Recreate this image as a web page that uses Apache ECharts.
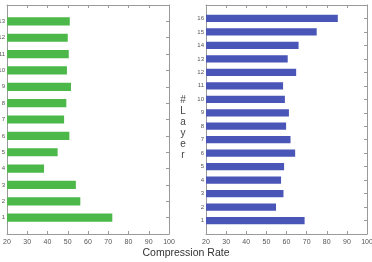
<!DOCTYPE html>
<html>
<head>
<meta charset="utf-8">
<title>Compression Rate</title>
<script src="https://cdn.jsdelivr.net/npm/echarts@6/dist/echarts.min.js"></script>
<style>html,body{margin:0;padding:0;background:#fff;}</style>
</head>
<body>
<div id="main" style="width:372px;height:262px;"></div>
<script type="text/javascript">
// layers, bottom to top
var leftLayers = ['1','2','3','4','5','6','7','8','9','10','11','12','13'];
var leftRates = [72, 56.2, 54, 38.3, 45, 50.8, 48.2, 49.3, 51.6, 49.6, 50.5, 50, 51];
var rightLayers = ['1','2','3','4','5','6','7','8','9','10','11','12','13','14','15','16'];
var rightRates = [69, 54.8, 58.5, 57.3, 58.8, 64.3, 62, 59.8, 61.2, 59.2, 58.3, 64.8, 60.6, 66, 75, 85.5];
var xTicks = [20, 30, 40, 50, 60, 70, 80, 90, 100];

var green = '#4cb84a', blue = '#4a55b8';
var lineCol = '#9a9a9a', labCol = '#555';
var plotTop = 5, plotBottom = 28;

function bandPad(n) { return (262 - plotTop - plotBottom) / (n + 1) / 2; }

function frameX(gi, top) {
    return {
        type: 'value', gridIndex: gi, min: xTicks[0], max: xTicks[xTicks.length - 1], interval: 10,
        position: top ? 'top' : 'bottom',
        axisLine: {show: true, onZero: false, lineStyle: {color: lineCol}},
        axisTick: {show: true, inside: true, length: 3, lineStyle: {color: lineCol}},
        axisLabel: {show: !top, fontSize: 7, color: labCol, margin: 5, fontFamily: 'Liberation Sans',
            showMinLabel: true, showMaxLabel: true},
        splitLine: {show: false}
    };
}
function frameY(gi, n, right) {
    return {
        type: 'value', gridIndex: gi, min: 0, max: n + 1, interval: 1,
        position: right ? 'right' : 'left',
        axisLine: {show: true, onZero: false, lineStyle: {color: lineCol}},
        axisTick: {show: true, inside: true, length: 3, lineStyle: {color: lineCol},
            customValues: Array.from({length: n}, function (_, i) { return i + 1; })},
        axisLabel: {show: !right, fontSize: 6, color: labCol, margin: 2, fontFamily: 'Liberation Sans',
            formatter: function (v) { return (v >= 1 && v <= n) ? String(v) : ''; }},
        splitLine: {show: false}
    };
}
function barX(gi) {
    return {type: 'value', gridIndex: gi, min: xTicks[0], max: xTicks[xTicks.length - 1], show: false, splitLine: {show: false}};
}
function barY(gi, cats) {
    return {type: 'category', gridIndex: gi, data: cats, show: false};
}

var pl = bandPad(leftLayers.length), pr = bandPad(rightLayers.length);

function grid(l, r, t, b) {
    return {left: l, right: r, top: t, bottom: b, containLabel: false, outerBoundsMode: 'none'};
}

var myChart = echarts.init(document.getElementById('main'));
var option = {
    animation: false,
    grid: [
        grid(7, 203, plotTop, plotBottom),
        grid(206, 5, plotTop, plotBottom),
        grid(7, 203, plotTop + pl, plotBottom + pl),
        grid(206, 5, plotTop + pr, plotBottom + pr)
    ],
    xAxis: [
        frameX(0, false), frameX(0, true),
        frameX(1, false), frameX(1, true),
        barX(2), barX(3)
    ],
    yAxis: [
        frameY(0, leftLayers.length, false), frameY(0, leftLayers.length, true),
        frameY(1, rightLayers.length, false), frameY(1, rightLayers.length, true),
        barY(2, leftLayers), barY(3, rightLayers)
    ],
    series: [
        {type: 'bar', xAxisIndex: 4, yAxisIndex: 4, data: leftRates, barWidth: '50%',
            itemStyle: {color: green}, silent: true},
        {type: 'bar', xAxisIndex: 5, yAxisIndex: 5, data: rightRates, barWidth: '54%',
            itemStyle: {color: blue}, silent: true}
    ],
    graphic: [
        {type: 'text', x: 186, y: 248, style: {text: 'Compression Rate', fontSize: 10.5,
            fill: '#333', fontFamily: 'Liberation Sans', textAlign: 'center'}},
        {type: 'text', x: 183, y: 95, style: {text: '#\nL\na\ny\ne\nr', fontSize: 10,
            lineHeight: 11, fill: '#444', fontFamily: 'Liberation Sans', textAlign: 'center'}}
    ]
};
myChart.setOption(option);
</script>
</body>
</html>
